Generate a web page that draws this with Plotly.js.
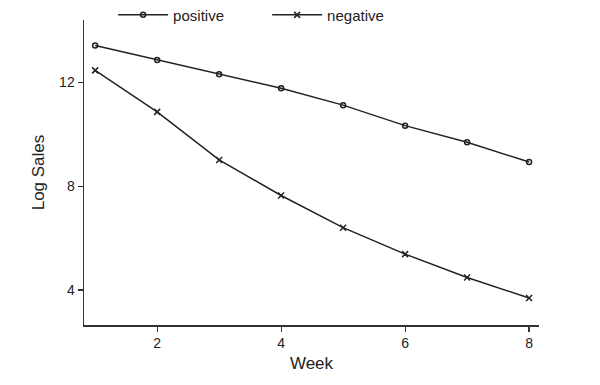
<!DOCTYPE html>
<html>
<head>
<meta charset="utf-8">
<script src="https://cdn.plot.ly/plotly-3.0.1.min.js"></script>
<style>html,body{margin:0;padding:0;background:#fff}#chart{width:600px;height:385px}</style>
</head>
<body>
<div id="chart"></div>
<script>
const weeks = [1, 2, 3, 4, 5, 6, 7, 8];
const positive = [13.42, 12.86, 12.31, 11.77, 11.12, 10.33, 9.69, 8.93];
const negative = [12.46, 10.86, 9.01, 7.64, 6.40, 5.38, 4.48, 3.69];
const xTicks = [2, 4, 6, 8];
const yTicks = [4, 8, 12];

const font = {family: 'Liberation Sans, Arial, Helvetica, sans-serif', color: '#222'};
const traces = [
  {x: weeks, y: positive, name: 'positive', type: 'scatter', mode: 'lines+markers',
   line: {color: '#222', width: 1.5},
   marker: {symbol: 'circle-open', size: 5, color: '#222', line: {width: 1.5, color: '#222'}}},
  {x: weeks, y: negative, name: 'negative', type: 'scatter', mode: 'lines+markers',
   line: {color: '#222', width: 1.5},
   marker: {symbol: 'x-thin-open', size: 6, color: '#222', line: {width: 1.5, color: '#222'}}}
];
const layout = {
  width: 600, height: 385,
  margin: {l: 84, r: 61, t: 20, b: 60, autoexpand: false},
  paper_bgcolor: '#fff', plot_bgcolor: '#fff',
  font: Object.assign({size: 14}, font),
  showlegend: true,
  legend: {orientation: 'h', x: 0.064, xanchor: 'left', y: 1.016, yanchor: 'middle',
           font: Object.assign({size: 15}, font), itemwidth: 50, entrywidth: 89, bgcolor: 'rgba(0,0,0,0)'},
  xaxis: {range: [0.82, 8.16], tickvals: xTicks, ticktext: xTicks.map(String),
          showgrid: false, zeroline: false, showline: true, linecolor: '#333', linewidth: 1.5,
          ticks: 'outside', ticklen: 5, tickwidth: 1.2, tickcolor: '#333',
          tickfont: Object.assign({size: 14}, font),
          title: {text: 'Week', font: Object.assign({size: 17}, font), standoff: 7}},
  yaxis: {range: [2.65, 14.4], tickvals: yTicks, ticktext: yTicks.map(String),
          showgrid: false, zeroline: false, showline: true, linecolor: '#333', linewidth: 1.5,
          ticks: 'outside', ticklen: 5, tickwidth: 1.2, tickcolor: '#333',
          tickfont: Object.assign({size: 14}, font),
          title: {text: 'Log Sales', font: Object.assign({size: 17}, font), standoff: 10}}
};
Plotly.newPlot('chart', traces, layout, {staticPlot: true, displayModeBar: false});
</script>
</body>
</html>
